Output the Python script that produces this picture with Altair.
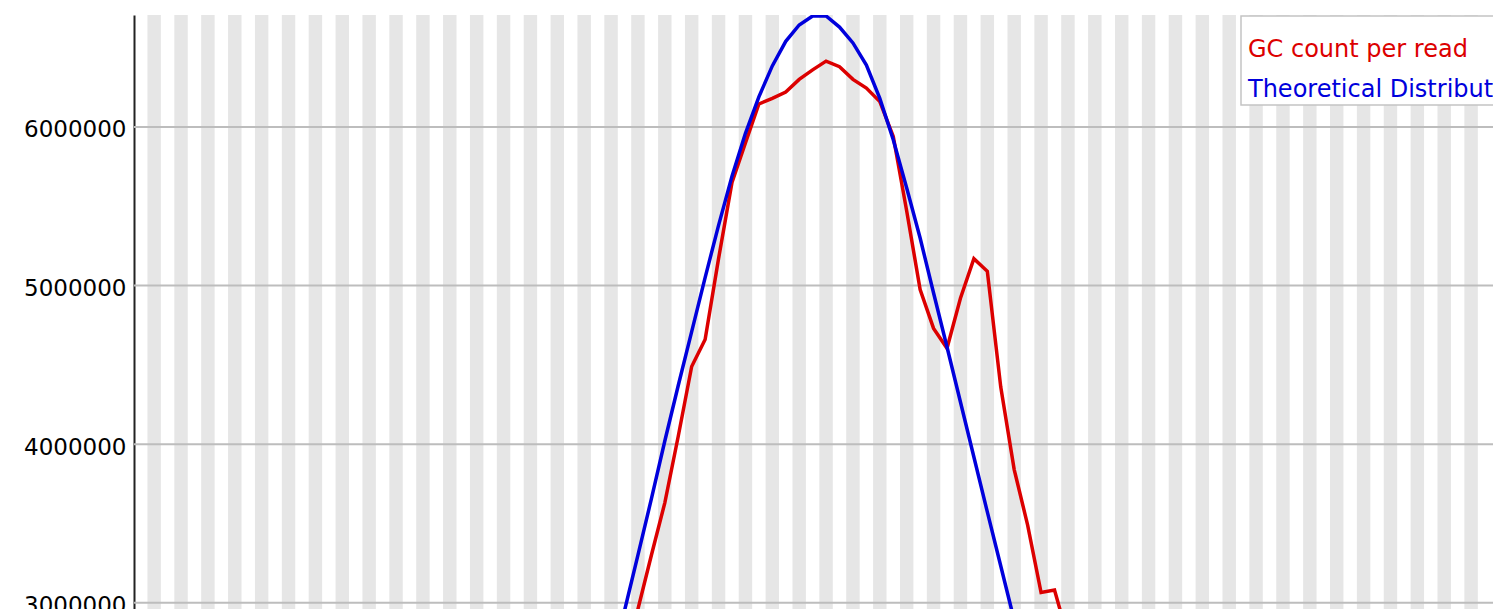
import altair as alt
import pandas as pd

# ---- data (GC content, categories = % GC) ----
gc_x = list(range(36, 70))
gc_count = [2600000, 2960000, 3300000, 3630000, 4050000, 4490000, 4660000, 5170000,
            5650000, 5900000, 6145000, 6180000, 6220000, 6300000, 6360000, 6415000,
            6380000, 6300000, 6245000, 6160000, 5940000, 5470000, 4975000, 4730000,
            4605000, 4920000, 5170000, 5090000, 4360000, 3840000, 3490000, 3065000,
            3080000, 2780000]

theo_x = list(range(36, 66))
theo_count = [2950000, 3300000, 3655000, 4020000, 4370000, 4710000, 5050000, 5380000,
              5690000, 5960000, 6190000, 6385000, 6540000, 6643000, 6700000, 6700000,
              6630000, 6530000, 6390000, 6180000, 5920000, 5615000, 5300000, 4953000,
              4613000, 4266000, 3919000, 3573000, 3232000, 2890000]

y_ticks = [3000000, 4000000, 5000000, 6000000]
series_names = ["GC count per read", "Theoretical Distribution"]
series_colors = ["#dc0000", "#0000dc"]
stripe_cats = list(range(1, 100, 2))

# ---- layout ----
W = 1359
H = 610
FONT = "DejaVu Sans"

xs = alt.Scale(domain=[-0.5, 100.63], nice=False, zero=False)
ys = alt.Scale(domain=[2860000, 6706000], nice=False, zero=False)

lines_df = pd.DataFrame(
    {"series": [series_names[0]] * len(gc_x) + [series_names[1]] * len(theo_x),
     "gc": gc_x + theo_x,
     "count": gc_count + theo_count}
)

stripes = alt.Chart(pd.DataFrame({"c": stripe_cats})).transform_calculate(
    x0="datum.c - 0.5", x1="datum.c + 0.5"
).mark_rect(color="#e6e6e6").encode(
    x=alt.X("x0:Q", scale=xs, axis=None),
    x2="x1:Q",
    y=alt.value(0),
    y2=alt.value(H),
)

grid = alt.Chart(pd.DataFrame({"v": y_ticks})).mark_rule(
    color="#bdbdbd", strokeWidth=2
).encode(
    y=alt.Y("v:Q", scale=ys,
            axis=alt.Axis(values=y_ticks, format="d", grid=False, ticks=False,
                          domain=True, domainColor="#222222", domainWidth=2,
                          labelFont=FONT, labelFontSize=23, labelColor="#000000",
                          labelPadding=8, labelBaseline="middle", labelOffset=3,
                          title=None))
)

lines = alt.Chart(lines_df).mark_line(strokeWidth=3.5, clip=True).encode(
    x=alt.X("gc:Q", scale=xs, axis=None),
    y=alt.Y("count:Q", scale=ys),
    color=alt.Color("series:N", scale=alt.Scale(domain=series_names, range=series_colors),
                    legend=None),
    detail="series:N",
)

legend_box = alt.Chart(pd.DataFrame({"a": [0]})).mark_rect(
    fill="white", stroke="#c4c4c4", strokeWidth=1.5, clip=True
).encode(
    x=alt.value(1107), x2=alt.value(1440), y=alt.value(1), y2=alt.value(90)
)

legend_df = pd.DataFrame({"series": series_names})
legend_texts = []
for name, ypix in zip(series_names, [41.5, 81.5]):
    legend_texts.append(
        alt.Chart(legend_df).transform_filter(alt.datum.series == name).mark_text(
            align="left", baseline="alphabetic", font=FONT, fontSize=24, clip=True
        ).encode(
            x=alt.value(1114), y=alt.value(ypix),
            text="series:N",
            color=alt.Color("series:N",
                            scale=alt.Scale(domain=series_names, range=series_colors),
                            legend=None),
        )
    )

chart = alt.layer(stripes, grid, lines, legend_box, *legend_texts).properties(
    width=W, height=H,
    autosize=alt.AutoSizeParams(type="none"),
    padding={"left": 126, "top": 7, "right": 0, "bottom": 0},
    background="white",
).configure_view(strokeWidth=0)

chart.save("out.html", embed_options={"renderer": "svg", "actions": False})
